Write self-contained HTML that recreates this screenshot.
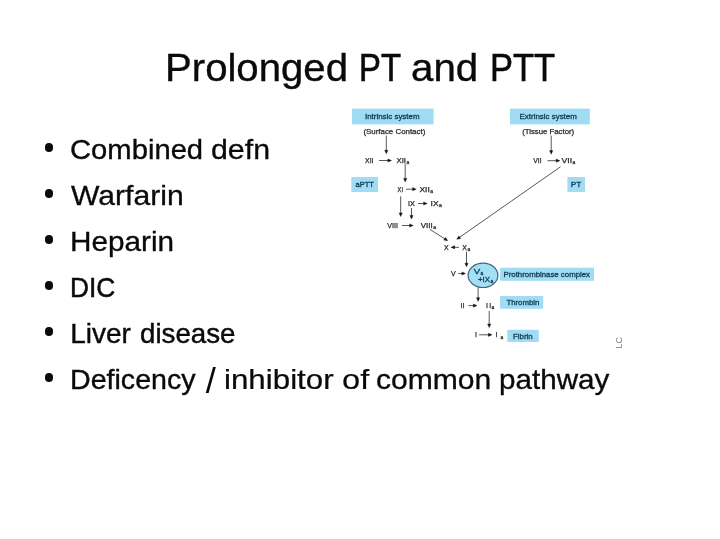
<!DOCTYPE html>
<html lang="en">
<head>
<meta charset="utf-8">
<title>Prolonged PT and PTT</title>
<style>
  html, body { margin: 0; padding: 0; background: #fff; }
  body { width: 720px; height: 539px; position: relative; overflow: hidden;
         font-family: "Liberation Sans", sans-serif; color: #0a0a0a; }
  .slide { position: absolute; left: 0; top: 0; width: 720px; height: 539px; filter: blur(0.45px); }
  h1 { position: absolute; left: 0; margin: 0; width: 720px; height: 44px; font-weight: normal;
       font-size: 39px; line-height: 44px; white-space: nowrap;
       -webkit-text-stroke: 0.15px #0a0a0a; }
  ul { position: absolute; left: 0; top: 0; margin: 0; padding: 0; list-style: none; }
  li { position: absolute; left: 0; width: 720px; height: 32px; line-height: 32px; font-size: 28px;
       white-space: nowrap; -webkit-text-stroke: 0.3px #0a0a0a; }
  li::before { content: ""; position: absolute; left: 44.6px; top: 9.15px; width: 8.8px; height: 8.8px;
       border-radius: 50%; background: #0a0a0a; }
  h1 span, li span { position: absolute; top: 0; display: inline-block; transform-origin: 0 50%; }
  svg { position: absolute; left: 0; top: 0; }
  #diagram { filter: blur(0.6px); }
  .bt { font-size: 7px; fill: #143c54; stroke: #143c54; stroke-width: 0.3; }
  .lt { font-size: 7px; fill: #2a2a2a; stroke: #2a2a2a; stroke-width: 0.25; }
  .sub { font-size: 5px; }
  .mk { font-size: 9px; fill: #777; }
  .ar { stroke: #444; stroke-width: 0.9; fill: none; }
  .ah { fill: #111; stroke: #111; stroke-width: 0.4; }
</style>
</head>
<body>
<div class="slide">
<h1 style="top:46.49px"><span style="left:164.66px;transform:scaleX(1.029);-webkit-text-stroke-width:0.38px">Prolonged</span> <span style="left:359.27px;transform:scaleX(0.842);-webkit-text-stroke-width:0.66px">PT</span> <span style="left:411.49px;transform:scaleX(1.032);-webkit-text-stroke-width:0.37px">and</span> <span style="left:489.62px;transform:scaleX(0.885);-webkit-text-stroke-width:0.59px">PTT</span></h1>
<ul>
  <li style="top:134.30px"><span style="left:70.14px;transform:scaleX(1.043);-webkit-text-stroke-width:0.36px">Combined</span> <span style="left:211.15px;transform:scaleX(1.083);-webkit-text-stroke-width:0.30px">defn</span></li>
  <li style="top:180.30px"><span style="left:71.43px;transform:scaleX(1.076);-webkit-text-stroke-width:0.31px">Warfarin</span></li>
  <li style="top:226.20px"><span style="left:69.91px;transform:scaleX(1.061);-webkit-text-stroke-width:0.33px">Heparin</span></li>
  <li style="top:272.10px"><span style="left:70.39px;transform:scaleX(0.939);-webkit-text-stroke-width:0.51px">DIC</span></li>
  <li style="top:318.00px"><span style="left:70.25px;transform:scaleX(1.000);-webkit-text-stroke-width:0.42px">Liver</span> <span style="left:139.76px;transform:scaleX(0.989);-webkit-text-stroke-width:0.44px">disease</span></li>
  <li style="top:363.90px"><span style="left:70.00px;transform:scaleX(1.021);-webkit-text-stroke-width:0.39px">Deficency</span> <span style="left:206.92px;transform:translateY(1.6px) scale(1.3,1.28);transform-origin:50% 50%;-webkit-text-stroke-width:0">/</span> <span style="left:223.96px;transform:scaleX(1.118);-webkit-text-stroke-width:0.24px">inhibitor</span> <span style="left:342.14px;transform:scaleX(1.164);-webkit-text-stroke-width:0.17px">of</span> <span style="left:376.16px;transform:scaleX(1.074);-webkit-text-stroke-width:0.31px">common</span> <span style="left:498.75px;transform:scaleX(1.058);-webkit-text-stroke-width:0.33px">pathway</span></li>
</ul>
<svg width="720" height="539" viewBox="0 0 720 539" font-family="'Liberation Sans', sans-serif">
<g id="diagram">
<rect x="352" y="108.6" width="81.6" height="15.8" fill="#a0ddf4"/>
<rect x="510" y="108.6" width="79.8" height="15.8" fill="#a0ddf4"/>
<rect x="351.3" y="177" width="26.7" height="15.0" fill="#a0ddf4"/>
<rect x="567.4" y="177" width="17.6" height="15.0" fill="#a0ddf4"/>
<rect x="500" y="267.7" width="94.0" height="13.1" fill="#a0ddf4"/>
<rect x="500" y="296" width="43.2" height="12.8" fill="#a0ddf4"/>
<rect x="507.3" y="329.8" width="31.5" height="12.2" fill="#a0ddf4"/>
<text class="bt" x="365" y="119.3" textLength="54.5" lengthAdjust="spacingAndGlyphs">Intrinsic system</text>
<text class="bt" x="519.6" y="119.3" textLength="57.2" lengthAdjust="spacingAndGlyphs">Extrinsic system</text>
<text class="bt" x="355.5" y="187.1" textLength="18.5" lengthAdjust="spacingAndGlyphs">aPTT</text>
<text class="bt" x="570.7" y="187.1" textLength="10.5" lengthAdjust="spacingAndGlyphs">PT</text>
<text class="bt" x="503.5" y="276.9" textLength="86.5" lengthAdjust="spacingAndGlyphs">Prothrombinase complex</text>
<text class="bt" x="506.4" y="304.9" textLength="33.0" lengthAdjust="spacingAndGlyphs">Thrombin</text>
<text class="bt" x="513" y="338.5" textLength="19.7" lengthAdjust="spacingAndGlyphs">Fibrin</text>
<ellipse cx="483" cy="275.3" rx="14.9" ry="12.2" fill="#a3e0f5" stroke="#3d6679" stroke-width="1.2"/>
<text class="bt" x="473.8" y="274" textLength="6.4" lengthAdjust="spacingAndGlyphs">V</text>
<text class="bt sub" x="480.6" y="275.2">a</text>
<text class="bt" x="478" y="281.9" textLength="12" lengthAdjust="spacingAndGlyphs">+IX</text>
<text class="bt sub" x="490.6" y="283.1">a</text>
<text class="lt" x="363.4" y="134.1" textLength="61.9" lengthAdjust="spacingAndGlyphs">(Surface Contact)</text>
<text class="lt" x="522.2" y="134.3" textLength="52.0" lengthAdjust="spacingAndGlyphs">(Tissue Factor)</text>
<text class="lt" x="365.0" y="163.0" textLength="8.5" lengthAdjust="spacingAndGlyphs">XII</text>
<text class="lt" x="397.6" y="191.7" textLength="5.4" lengthAdjust="spacingAndGlyphs">XI</text>
<text class="lt" x="408.1" y="206.0" textLength="6.9" lengthAdjust="spacingAndGlyphs">IX</text>
<text class="lt" x="387.3" y="228.0" textLength="10.7" lengthAdjust="spacingAndGlyphs">VIII</text>
<text class="lt" x="443.9" y="249.8">X</text>
<text class="lt" x="451.0" y="276.0">V</text>
<text class="lt" x="460.6" y="308.1" textLength="3.8" lengthAdjust="spacingAndGlyphs">II</text>
<text class="lt" x="475.1" y="337.3">I</text>
<text class="lt" x="533.3" y="163.2" textLength="8.3" lengthAdjust="spacingAndGlyphs">VII</text>
<text class="lt" x="396.5" y="163.0" textLength="9.5" lengthAdjust="spacingAndGlyphs">XII</text>
<text class="lt sub" x="406.4" y="164.2">a</text>
<text class="lt" x="419.4" y="191.7" textLength="10.4" lengthAdjust="spacingAndGlyphs">XII</text>
<text class="lt sub" x="430.2" y="192.9">a</text>
<text class="lt" x="430.5" y="206.0" textLength="8.1" lengthAdjust="spacingAndGlyphs">IX</text>
<text class="lt sub" x="439.0" y="207.2">a</text>
<text class="lt" x="420.8" y="228.0" textLength="12.0" lengthAdjust="spacingAndGlyphs">VIII</text>
<text class="lt sub" x="433.2" y="229.2">a</text>
<text class="lt" x="462.3" y="249.8">X</text>
<text class="lt sub" x="467.4" y="251.0">a</text>
<text class="lt" x="486.0" y="308.1" textLength="5.2" lengthAdjust="spacing">II</text>
<text class="lt sub" x="491.6" y="309.3">a</text>
<text class="lt" x="495.6" y="337.3">I</text>
<text class="lt sub" x="500.4" y="338.5">a</text>
<text class="lt" x="561.5" y="163.2" textLength="10.6" lengthAdjust="spacingAndGlyphs">VII</text>
<text class="lt sub" x="572.5" y="164.4">a</text>
<line class="ar" x1="386.3" y1="135.5" x2="386.3" y2="151.2"/>
<polygon class="ah" points="386.3,153.8 384.7,150.2 387.9,150.2"/>
<line class="ar" x1="379.0" y1="160.5" x2="388.9" y2="160.5"/>
<polygon class="ah" points="391.5,160.5 387.9,162.1 387.9,158.9"/>
<line class="ar" x1="405.2" y1="163.8" x2="405.2" y2="179.4"/>
<polygon class="ah" points="405.2,182.0 403.6,178.4 406.8,178.4"/>
<line class="ar" x1="406.0" y1="189.2" x2="413.6" y2="189.2"/>
<polygon class="ah" points="416.2,189.2 412.6,190.8 412.6,187.6"/>
<line class="ar" x1="400.7" y1="196.3" x2="400.7" y2="213.9"/>
<polygon class="ah" points="400.7,216.5 399.1,212.9 402.3,212.9"/>
<line class="ar" x1="418.0" y1="203.5" x2="424.6" y2="203.5"/>
<polygon class="ah" points="427.2,203.5 423.6,205.1 423.6,201.9"/>
<line class="ar" x1="411.5" y1="208.0" x2="411.5" y2="216.4"/>
<polygon class="ah" points="411.5,219.0 409.9,215.4 413.1,215.4"/>
<line class="ar" x1="402.0" y1="225.5" x2="410.6" y2="225.5"/>
<polygon class="ah" points="413.2,225.5 409.6,227.1 409.6,223.9"/>
<line class="ar" x1="430.0" y1="229.4" x2="445.5" y2="239.3"/>
<polygon class="ah" points="447.7,240.7 443.8,240.1 445.5,237.4"/>
<line class="ar" x1="459.0" y1="247.3" x2="453.6" y2="247.3"/>
<polygon class="ah" points="451.0,247.3 454.6,245.7 454.6,248.9"/>
<line class="ar" x1="560.5" y1="166.8" x2="458.9" y2="237.8"/>
<polygon class="ah" points="456.8,239.3 458.8,235.9 460.7,238.5"/>
<line class="ar" x1="466.5" y1="251.7" x2="466.5" y2="264.2"/>
<polygon class="ah" points="466.5,266.8 464.9,263.2 468.1,263.2"/>
<line class="ar" x1="458.3" y1="273.5" x2="462.9" y2="273.5"/>
<polygon class="ah" points="465.5,273.5 461.9,275.1 461.9,271.9"/>
<line class="ar" x1="478.1" y1="287.4" x2="478.1" y2="298.8"/>
<polygon class="ah" points="478.1,301.4 476.5,297.8 479.7,297.8"/>
<line class="ar" x1="468.5" y1="305.6" x2="474.4" y2="305.6"/>
<polygon class="ah" points="477.0,305.6 473.4,307.2 473.4,304.0"/>
<line class="ar" x1="489.2" y1="310.9" x2="489.2" y2="325.0"/>
<polygon class="ah" points="489.2,327.6 487.6,324.0 490.8,324.0"/>
<line class="ar" x1="479.0" y1="334.8" x2="489.4" y2="334.8"/>
<polygon class="ah" points="492.0,334.8 488.4,336.4 488.4,333.2"/>
<line class="ar" x1="551.2" y1="135.5" x2="551.2" y2="151.6"/>
<polygon class="ah" points="551.2,154.2 549.6,150.6 552.8,150.6"/>
<line class="ar" x1="547.5" y1="160.7" x2="557.2" y2="160.7"/>
<polygon class="ah" points="559.8,160.7 556.2,162.3 556.2,159.1"/>
<text class="mk" transform="translate(621.6,348.6) rotate(-90)">LC</text>
</g>
</svg>
</div>
</body>
</html>
